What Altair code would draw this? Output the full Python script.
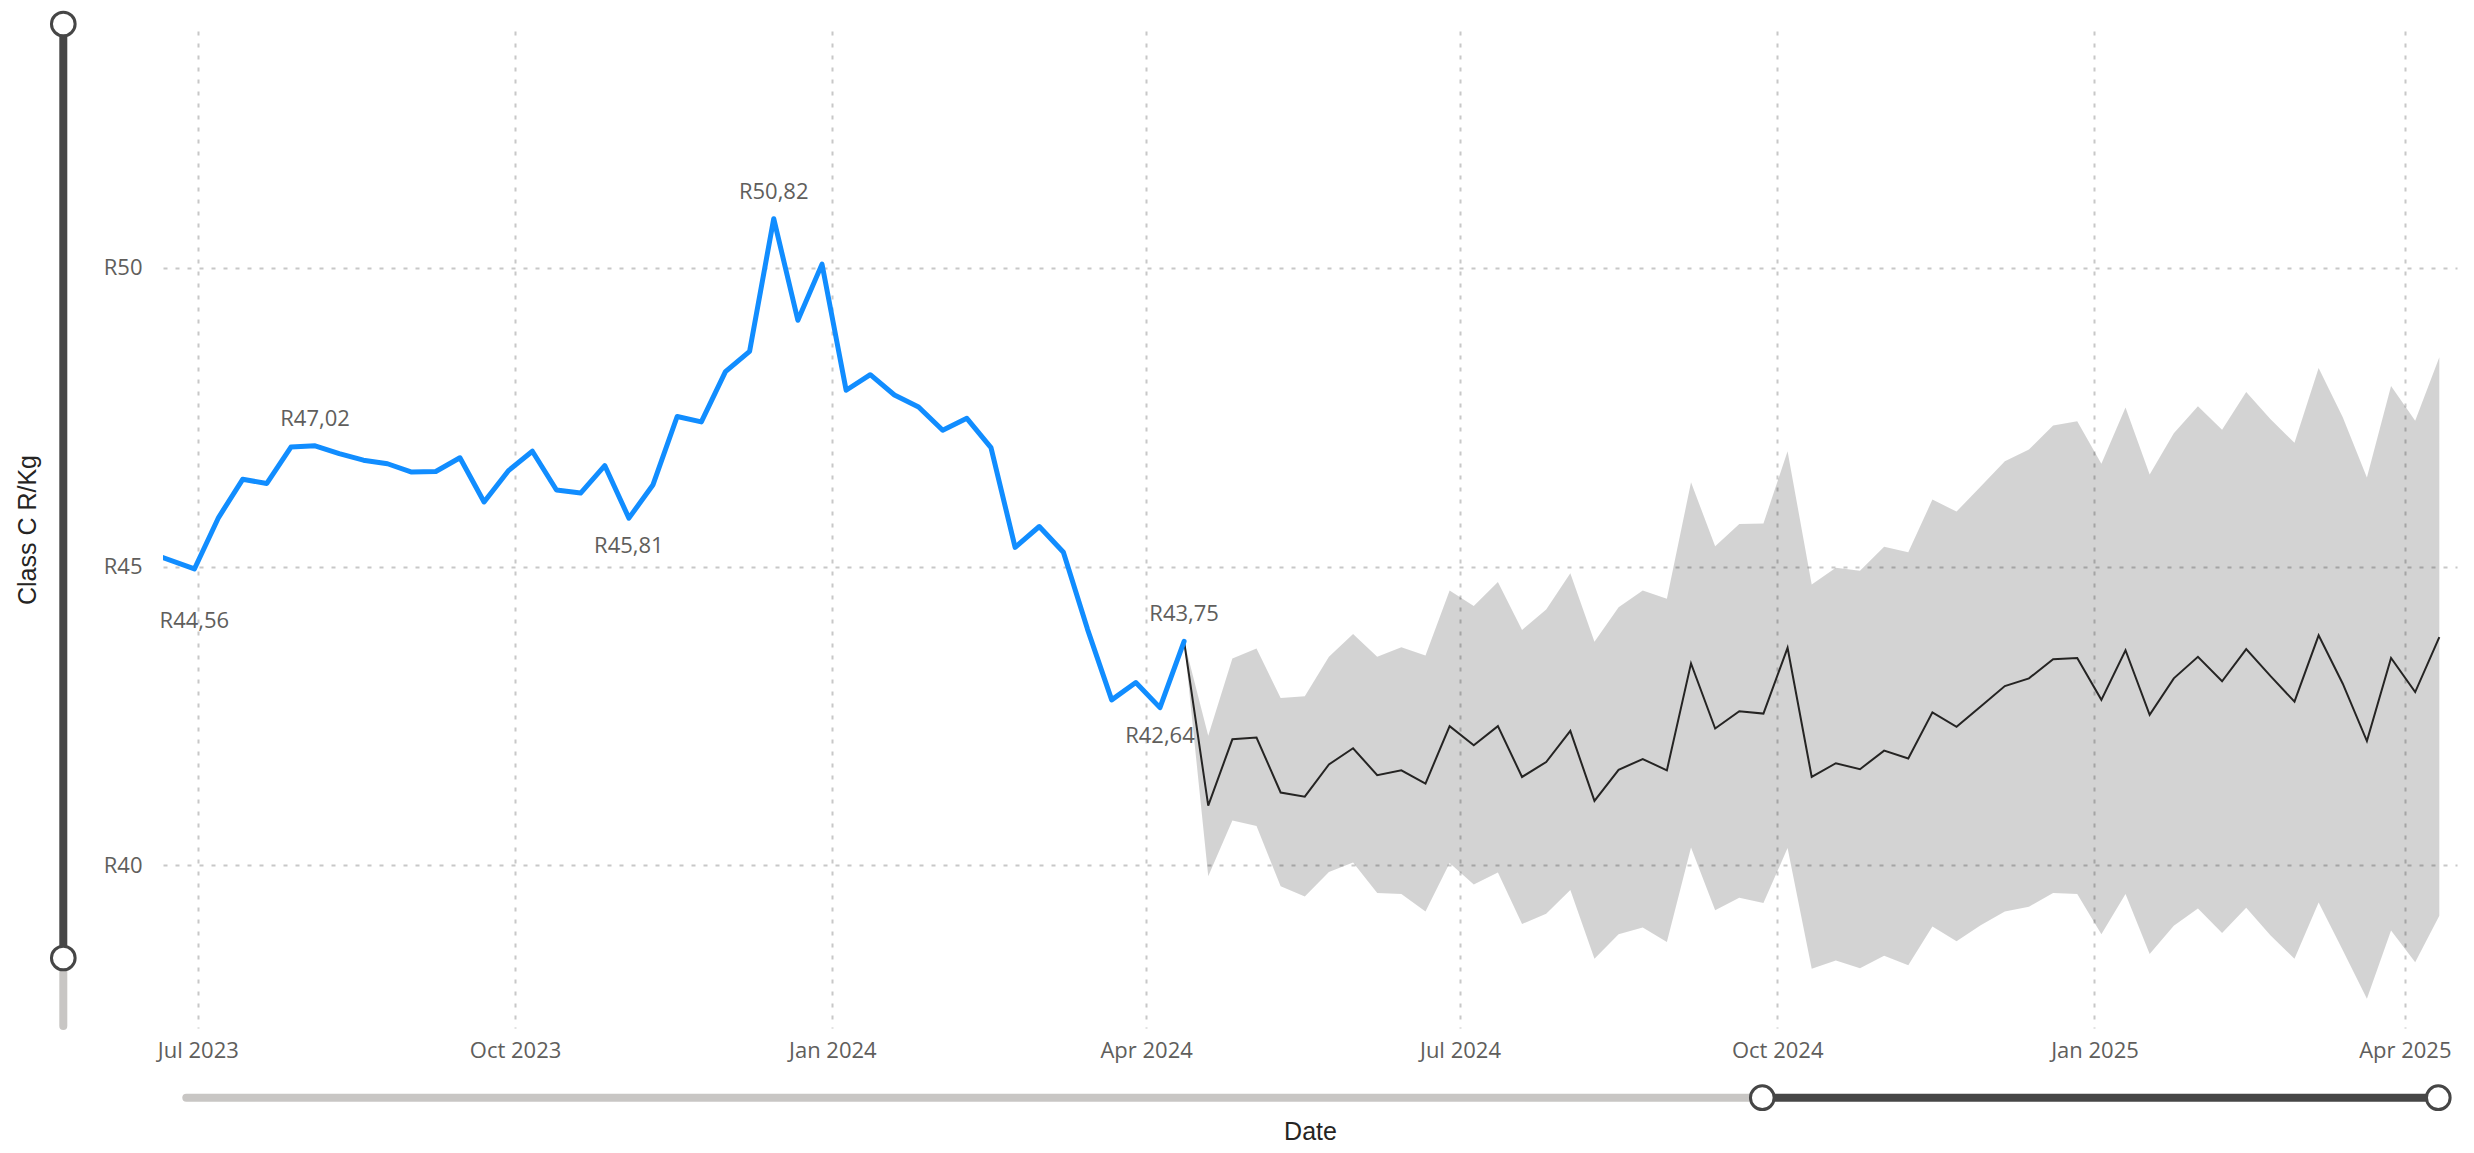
import altair as alt
import pandas as pd

# ---------------- data ----------------
# weekly actual prices (Fridays), first point lies just left of the visible window
lead_date = "2023-06-16T00:00:00"
lead_value = 45.25
actual_start = "2023-06-30"
actual_values = [
    44.96, 45.82, 46.46, 46.39, 47.00, 47.02, 46.89, 46.78, 46.72, 46.58,
    46.59, 46.82, 46.08, 46.60, 46.93, 46.28, 46.23, 46.69, 45.81, 46.37,
    47.51, 47.42, 48.26, 48.60, 50.82, 49.12, 50.06, 47.95, 48.21, 47.87,
    47.67, 47.28, 47.48, 46.99, 45.32, 45.67, 45.24, 43.95, 42.77, 43.06,
    42.64, 43.75,
]

forecast_mean = [
    41.00, 42.11, 42.14, 41.22, 41.15, 41.69, 41.96, 41.51, 41.59, 41.37,
    42.33, 42.01, 42.33, 41.48, 41.73, 42.25, 41.08, 41.60, 41.78, 41.59,
    43.38, 42.29, 42.58, 42.54, 43.64, 41.48, 41.71, 41.61, 41.92, 41.79,
    42.56, 42.32, 42.66, 43.00, 43.13, 43.45, 43.47, 42.77, 43.60, 42.52,
    43.13, 43.49, 43.08, 43.62, 43.17, 42.74, 43.85, 43.04, 42.08, 43.47,
    42.90, 43.82,
]
forecast_upper = [
    42.17, 43.46, 43.63, 42.80, 42.83, 43.49, 43.87, 43.49, 43.65, 43.51,
    44.60, 44.34, 44.74, 43.94, 44.28, 44.89, 43.74, 44.32, 44.60, 44.46,
    46.41, 45.34, 45.71, 45.72, 46.93, 44.70, 44.98, 44.93, 45.33, 45.24,
    46.12, 45.92, 46.34, 46.76, 46.96, 47.36, 47.43, 46.72, 47.66, 46.54,
    47.23, 47.68, 47.29, 47.92, 47.47, 47.07, 48.32, 47.50, 46.49, 48.02,
    47.44, 48.50,
]
forecast_lower = [
    39.82, 40.75, 40.66, 39.65, 39.48, 39.89, 40.05, 39.54, 39.52, 39.23,
    40.04, 39.68, 39.88, 39.02, 39.19, 39.59, 38.44, 38.85, 38.96, 38.72,
    40.30, 39.25, 39.46, 39.37, 40.29, 38.27, 38.41, 38.28, 38.49, 38.33,
    38.98, 38.73, 39.00, 39.23, 39.31, 39.54, 39.52, 38.85, 39.52, 38.52,
    38.99, 39.28, 38.87, 39.29, 38.83, 38.44, 39.38, 38.58, 37.77, 38.91,
    38.38, 39.16,
]

label_dates = ["2023-06-30T00:00:00", "2023-08-04T00:00:00", "2023-11-03T00:00:00",
               "2023-12-15T00:00:00", "2024-04-05T00:00:00", "2024-04-12T00:00:00"]
label_values = [44.56, 47.02, 45.81, 50.82, 42.64, 43.75]
label_sides = ["below", "above", "below", "above", "below", "above"]

y_ticks = [40, 45, 50]
x_tick_months = [(2023, 7), (2023, 10), (2024, 1), (2024, 4),
                 (2024, 7), (2024, 10), (2025, 1), (2025, 4)]

# ---------------- tables ----------------
fmt = "%Y-%m-%dT00:00:00"
actual_dates = pd.date_range(actual_start, periods=len(actual_values), freq="7D")
actual_df = pd.DataFrame({
    "date": [lead_date] + list(actual_dates.strftime(fmt)),
    "value": [lead_value] + actual_values,
})

last_date = actual_dates[-1]
fc_dates = pd.date_range(last_date, periods=len(forecast_mean) + 1, freq="7D")
last_val = actual_values[-1]
forecast_df = pd.DataFrame({
    "date": list(fc_dates.strftime(fmt)),
    "mean": [last_val] + forecast_mean,
    "upper": [last_val] + forecast_upper,
    "lower": [last_val] + forecast_lower,
})

labels_df = pd.DataFrame({"date": label_dates, "v": label_values, "side": label_sides})

# ---------------- encodings ----------------
FONT = "Segoe UI, Open Sans, sans-serif"
TITLE_FONT = "DIN, Liberation Sans, Arial, sans-serif"
W, H = 2294, 997

x_enc = alt.X(
    "date:T",
    scale=alt.Scale(domain=[alt.DateTime(year=2023, month=6, date=20, hours=21, minutes=30),
                            alt.DateTime(year=2025, month=4, date=16, hours=3)]),
    axis=alt.Axis(
        title="Date",
        values=[alt.DateTime(year=y, month=m, date=1) for y, m in x_tick_months],
        format="%b %Y",
        labelPadding=12,
        titleX=W / 2, titleY=103,
        titleAlign="center", titleBaseline="middle",
    ),
)
y_scale = alt.Scale(domain=[37.28, 53.96], nice=False, zero=False)
y_axis = alt.Axis(
    title="Class C R/Kg",
    values=y_ticks,
    labelExpr="'R' + datum.value",
    labelPadding=21,
    titleX=-136, titleY=H / 2,
    titleAlign="center", titleBaseline="middle",
)

band = alt.Chart(forecast_df).mark_area(color="#000000", opacity=0.172).encode(
    x=x_enc,
    y=alt.Y("upper:Q", scale=y_scale, axis=y_axis),
    y2="lower:Q",
)
fc_line = alt.Chart(forecast_df).mark_line(color="#252423", strokeWidth=2).encode(
    x=x_enc, y=alt.Y("mean:Q", scale=y_scale),
)
act_line = alt.Chart(actual_df).mark_line(
    color="#118DFF", strokeWidth=5, clip=True, strokeJoin="round", strokeCap="round"
).encode(x=x_enc, y=alt.Y("value:Q", scale=y_scale))

lab_base = alt.Chart(labels_df).transform_calculate(
    txt="'R' + replace(format(datum.v, '.2f'), '.', ',')"
)
lab_above = lab_base.transform_filter("datum.side == 'above'").mark_text(
    dy=-27, font=FONT, fontSize=22, color="#605E5C"
).encode(x=x_enc, y=alt.Y("v:Q", scale=y_scale), text="txt:N")
lab_below = lab_base.transform_filter("datum.side == 'below'").mark_text(
    dy=28, font=FONT, fontSize=22, color="#605E5C"
).encode(x=x_enc, y=alt.Y("v:Q", scale=y_scale), text="txt:N")

# ---------------- zoom-slider decorations ----------------
one = alt.Data(values=[{"k": 1}])
DARK = "#464646"
LIGHT = "#C8C6C4"
vx = -99.7
hy = 1066.7


def rule_v(y0, y1, color):
    return alt.Chart(one).mark_rule(color=color, strokeWidth=8, strokeCap="round").encode(
        x=alt.value(vx), y=alt.value(y0), y2=alt.value(y1))


def rule_h(x0, x1, color):
    return alt.Chart(one).mark_rule(color=color, strokeWidth=8, strokeCap="round").encode(
        y=alt.value(hy), x=alt.value(x0), x2=alt.value(x1))


def knob(x, y):
    return alt.Chart(one).mark_point(
        shape="circle", filled=True, fill="white", stroke=DARK, strokeWidth=3,
        size=560, opacity=1, strokeOpacity=1, fillOpacity=1
    ).encode(x=alt.value(x), y=alt.value(y))


chrome = [
    rule_v(927, 995, LIGHT), rule_v(-7, 927, DARK),
    knob(vx, -7), knob(vx, 927),
    rule_h(23.3, 1599.3, LIGHT), rule_h(1599.3, 2275.3, DARK),
    knob(1599.3, hy), knob(2275.3, hy),
]

chart = alt.layer(band, fc_line, act_line, lab_above, lab_below, *chrome).properties(
    width=W, height=H,
    autosize=alt.AutoSizeParams(type="none"),
    padding={"left": 155, "top": 23, "right": 6, "bottom": 120},
).configure_view(stroke=None).configure_axis(
    domain=False, ticks=False,
    grid=True, gridColor="#C8C8C8", gridDash=[4, 8], gridWidth=2,
    labelFont=FONT, labelFontSize=22, labelColor="#605E5C",
    titleFont=TITLE_FONT, titleFontSize=25, titleColor="#252423", titleFontWeight="normal",
)

chart.save("out.html", embed_options={"renderer": "svg", "actions": False})
